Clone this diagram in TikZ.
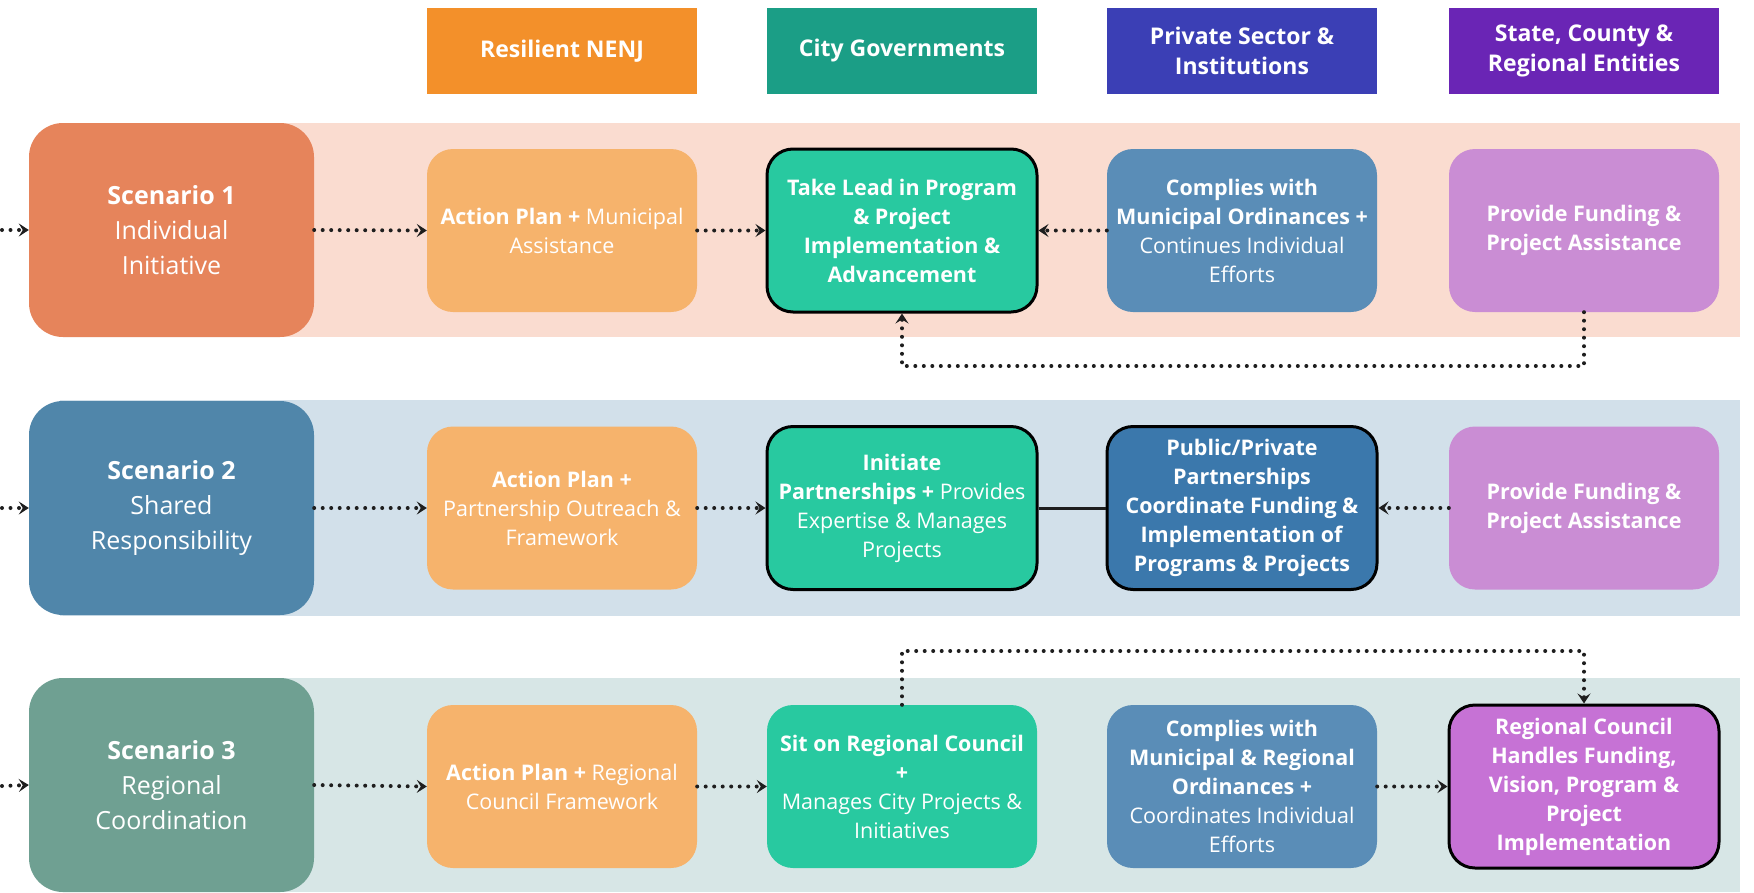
\documentclass[tikz,border=0pt]{standalone}
\usepackage{fontspec}
\setmainfont{Open Sans}
\usetikzlibrary{arrows.meta,calc}
\definecolor{hdrorange}{HTML}{F3902A}
\definecolor{hdrteal}{HTML}{1B9E86}
\definecolor{hdrblue}{HTML}{3B3FB5}
\definecolor{hdrpurple}{HTML}{6A25B5}
\definecolor{bandA}{HTML}{FADCD0}
\definecolor{bandB}{HTML}{D2E0EA}
\definecolor{bandC}{HTML}{D7E6E6}
\definecolor{scA}{HTML}{E6845B}
\definecolor{scB}{HTML}{5086AA}
\definecolor{scC}{HTML}{6FA092}
\definecolor{actorange}{HTML}{F6B36C}
\definecolor{cityteal}{HTML}{28C9A0}
\definecolor{privblue}{HTML}{5A8DB7}
\definecolor{provpurple}{HTML}{CA8DD4}
\definecolor{ppblue}{HTML}{3B78AC}
\definecolor{regpurple}{HTML}{C672D5}
\definecolor{dotink}{HTML}{1E1E1E}
\tikzset{
  hdr/.style={minimum width=270pt, minimum height=86pt, inner sep=0pt, align=center, text=white,
    font=\fontsize{23}{30}\selectfont\bfseries},
  scen/.style={rounded corners=34pt, minimum width=285pt, minimum height=214pt, inner sep=0pt, align=center,
    text=white, font=\fontsize{25}{34.7}\selectfont},
  cell/.style={rounded corners=26pt, minimum width=270pt, minimum height=163pt, inner sep=0pt, align=center,
    text=white, font=\fontsize{21.5}{29}\selectfont},
  lead/.style={cell, draw=black, line width=3pt},
  dotarrow/.style={draw=dotink, line width=4pt, dash pattern=on 0pt off 8.5pt, line cap=round,
    -{Stealth[length=10pt,width=13pt,inset=4pt]}},
  solidline/.style={draw=dotink, line width=3pt}
}
\begin{document}
\begin{tikzpicture}[x=1pt,y=-1pt]
\useasboundingbox (0,0) rectangle (1754,892);
\fill[white] (0,0) rectangle (1754,892);
% bands
\fill[bandA] (60,123) rectangle (1740,337);
\fill[bandB] (60,400) rectangle (1740,616);
\fill[bandC] (60,678) rectangle (1740,892);
% headers
\node[hdr, fill=hdrorange] (h1) at (562,51) {Resilient NENJ};
\node[hdr, fill=hdrteal] (h2) at (902,51) {City Governments};
\node[hdr, fill=hdrblue] (h3) at (1242,51) {Private Sector \&\\Institutions};
\node[hdr, fill=hdrpurple] (h4) at (1584,51) {State, County \&\\Regional Entities};
% row 1
\node[scen, fill=scA] (s1) at (171.5,230) {\textbf{Scenario 1}\\Individual\\Initiative};
\node[cell, fill=actorange] (a1) at (562,230.5) {\textbf{Action Plan +} Municipal\\Assistance};
\node[lead, fill=cityteal] (t1) at (902,230.5) {\textbf{Take Lead in Program}\\\textbf{\& Project}\\\textbf{Implementation \&}\\\textbf{Advancement}};
\node[cell, fill=privblue] (c1) at (1242,230.5) {\textbf{Complies with}\\\textbf{Municipal Ordinances +}\\Continues Individual\\Efforts};
\node[cell, fill=provpurple] (p1) at (1584,230.5) {\textbf{Provide Funding \&}\\\textbf{Project Assistance}};
% row 2
\node[scen, fill=scB] (s2) at (171.5,508) {\textbf{Scenario 2}\\Shared\\Responsibility};
\node[cell, fill=actorange] (a2) at (562,508) {\textbf{Action Plan +}\\Partnership Outreach \&\\Framework};
\node[lead, fill=cityteal] (t2) at (902,508) {\textbf{Initiate}\\\textbf{Partnerships +} Provides\\Expertise \& Manages\\Projects};
\node[lead, fill=ppblue] (c2) at (1242,508) {\textbf{Public/Private}\\\textbf{Partnerships}\\\textbf{Coordinate Funding \&}\\\textbf{Implementation of}\\\textbf{Programs \& Projects}};
\node[cell, fill=provpurple] (p2) at (1584,508) {\textbf{Provide Funding \&}\\\textbf{Project Assistance}};
% row 3
\node[scen, fill=scC] (s3) at (171.5,785) {\textbf{Scenario 3}\\Regional\\Coordination};
\node[cell, fill=actorange] (a3) at (562,786.5) {\textbf{Action Plan +} Regional\\Council Framework};
\node[cell, fill=cityteal] (t3) at (902,786.5) {\textbf{Sit on Regional Council}\\\textbf{+}\\Manages City Projects \&\\Initiatives};
\node[cell, fill=privblue] (c3) at (1242,786.5) {\textbf{Complies with}\\\textbf{Municipal \& Regional}\\\textbf{Ordinances +}\\Coordinates Individual\\Efforts};
\node[lead, fill=regpurple] (p3) at (1584,786.5) {\textbf{Regional Council}\\\textbf{Handles Funding,}\\\textbf{Vision, Program \&}\\\textbf{Project}\\\textbf{Implementation}};
% free ends and corners
\coordinate (in1) at (2,230);
\coordinate (in2) at (2,508);
\coordinate (in3) at (2,786);
\coordinate (loopA) at (0,366);
\coordinate (loopC) at (0,651);
% connectors row 1
\draw[dotarrow] (in1) -- (s1.west);
\draw[dotarrow] (s1.east) -- (a1.west);
\draw[dotarrow] (a1.east) -- (t1.west);
\draw[dotarrow] (c1.west) -- (t1.east);
\draw[dotarrow] (p1.south) -- (p1.south |- loopA) -- (t1.south |- loopA) -- (t1.south);
% row 2
\draw[dotarrow] (in2) -- (s2.west);
\draw[dotarrow] (s2.east) -- (a2.west);
\draw[dotarrow] (a2.east) -- (t2.west);
\draw[solidline] (t2.east) -- (c2.west);
\draw[dotarrow] (p2.west) -- (c2.east);
% row 3
\draw[dotarrow] (in3) -- (s3.west);
\draw[dotarrow] (s3.east) -- (a3.west);
\draw[dotarrow] (a3.east) -- (t3.west);
\draw[dotarrow] (c3.east) -- (p3.west);
\draw[dotarrow] (t3.north) -- (t3.north |- loopC) -- (p3.north |- loopC) -- (p3.north);
\end{tikzpicture}
\end{document}
